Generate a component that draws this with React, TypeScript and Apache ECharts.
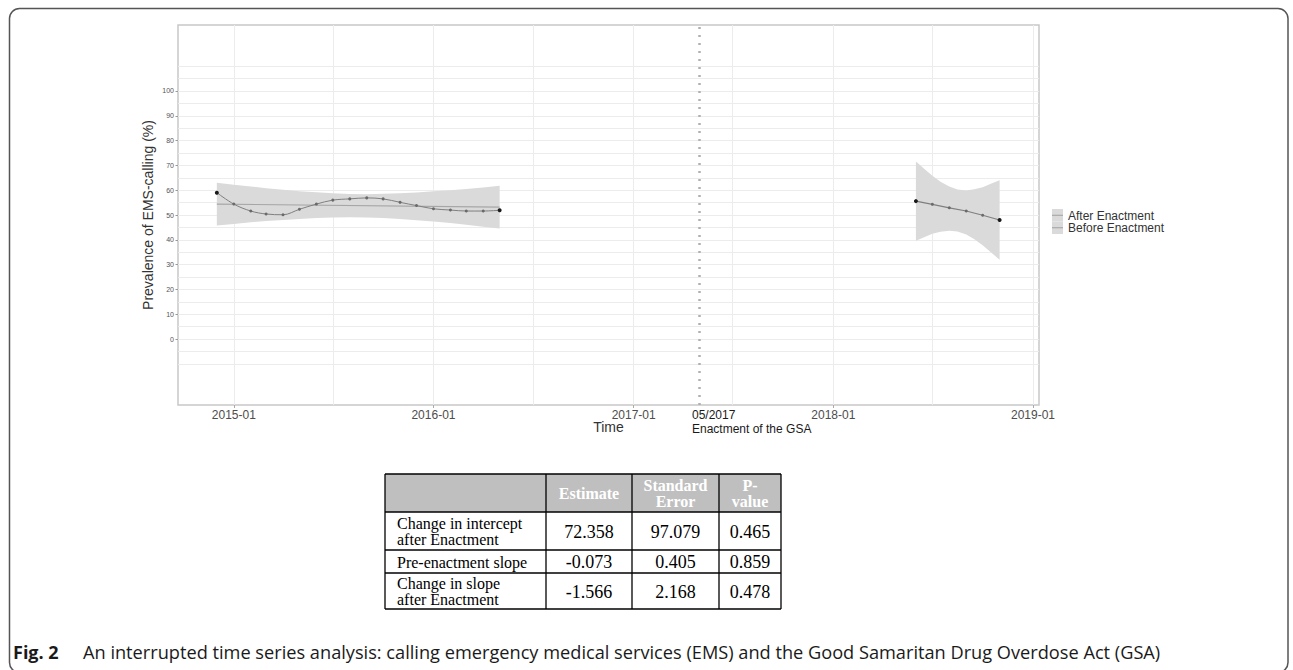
import React, { useEffect, useRef } from 'react';
import * as echarts from 'echarts';

// ---------- data ----------
const beforeMonths = ['2014-12-01','2015-01-01','2015-02-01','2015-03-01','2015-04-01','2015-05-01','2015-06-01','2015-07-01','2015-08-01','2015-09-01','2015-10-01','2015-11-01','2015-12-01','2016-01-01','2016-02-01','2016-03-01','2016-04-01','2016-05-01'];
const beforeValues = [59.0,54.4,51.6,50.4,50.1,52.3,54.4,56.0,56.5,56.9,56.5,55.1,53.8,52.5,52.0,51.6,51.6,51.9];
const beforeUpper = [63.0,62.2,61.5,60.8,60.2,59.6,59.2,58.8,58.5,58.4,58.6,58.8,59.1,59.6,60.0,60.5,61.1,61.8];
const beforeLower = [45.8,46.4,47.1,47.6,48.0,48.4,48.8,49.0,49.1,49.0,48.8,48.4,47.9,47.4,46.8,46.1,45.3,44.6];
const beforeFitDates = ['2014-12-01','2016-05-01'];
const beforeFit = [54.4,53.2];

const afterMonths = ['2018-06-01','2018-07-01','2018-08-01','2018-09-01','2018-10-01','2018-11-01'];
const afterValues = [55.6,54.3,52.9,51.6,49.9,48.0];
const afterBandDates = ['2018-06-01','2018-06-16','2018-07-01','2018-07-16','2018-08-01','2018-08-16','2018-09-01','2018-09-16','2018-10-01','2018-10-16','2018-11-01'];
const afterUpper = [71.6,68.6,65.8,63.4,61.5,60.3,59.9,60.4,61.2,62.6,64.0];
const afterLower = [39.6,41.0,42.4,43.2,43.7,43.3,42.1,40.2,37.8,35.0,32.0];

const enactmentDate = '2017-05-01';
const xTickLabels = ['2015-01-01','2016-01-01','2017-01-01','2018-01-01','2019-01-01'];
const xGridDates = ['2015-01-01','2015-07-01','2016-01-01','2016-07-01','2017-01-01','2017-07-01','2018-01-01','2018-07-01','2019-01-01'];
const yTickLabels = [0,10,20,30,40,50,60,70,80,90,100];
const yGridValues = [-10,-5,0,5,10,15,20,25,30,35,40,45,50,55,60,65,70,75,80,85,90,95,100,105,110];
const xMin = '2014-09-21';
const xMax = '2019-01-12';
const yMin = -26.6;
const yMax = 126.6;

const legendLabels = ['After Enactment','Before Enactment'];

const tableHeaders = ['', 'Estimate', 'Standard\nError', 'P-\nvalue'];
const tableLabels = ['Change in intercept\nafter Enactment', 'Pre-enactment slope', 'Change in slope\nafter Enactment'];
const tableEstimates = ['72.358', '-0.073', '-1.566'];
const tableStdErrors = ['97.079', '0.405', '2.168'];
const tablePValues = ['0.465', '0.859', '0.478'];

const captionBold = 'Fig. 2';
const captionText = 'An interrupted time series analysis: calling emergency medical services (EMS) and the Good Samaritan Drug Overdose Act (GSA)';

// ---------- helpers ----------
const ts = (s: string) => new Date(s + 'T00:00:00').getTime();
const fmtMonth = (v: number) => {
  const d = new Date(v);
  const m = d.getMonth() + 1;
  return d.getFullYear() + '-' + (m < 10 ? '0' + m : '' + m);
};

function ribbonSeries(dates: string[], upper: number[], lower: number[]) {
  return {
    type: 'custom',
    silent: true,
    z: 1,
    clip: true,
    encode: { x: 0, y: 1 },
    data: [[ts(dates[0]), upper[0]]],
    renderItem: (_params: any, api: any) => {
      const pts: number[][] = [];
      for (let i = 0; i < dates.length; i++) pts.push(api.coord([ts(dates[i]), upper[i]]));
      for (let i = dates.length - 1; i >= 0; i--) pts.push(api.coord([ts(dates[i]), lower[i]]));
      return { type: 'polygon', shape: { points: pts }, style: { fill: '#dadada', stroke: 'none' } };
    },
  };
}

function pointData(dates: string[], values: number[]) {
  return dates.map((d, i) => {
    const end = i === 0 || i === dates.length - 1;
    return {
      value: [ts(d), values[i]],
      symbolSize: end ? 4 : 3,
      itemStyle: { color: end ? '#1a1a1a' : '#6a6a6a' },
    };
  });
}

// ---------- table layout ----------
const colX = [385, 546, 632, 719, 781];
const rowY = [474, 512, 550, 573, 609];

function buildTable() {
  const els: any[] = [];
  els.push({
    type: 'rect', silent: true,
    shape: { x: colX[0], y: rowY[0], width: colX[4] - colX[0], height: rowY[1] - rowY[0] },
    style: { fill: '#bfbfbf' },
  });
  for (let c = 1; c < tableHeaders.length; c++) {
    els.push({
      type: 'text', silent: true,
      x: (colX[c] + colX[c + 1]) / 2, y: (rowY[0] + rowY[1]) / 2,
      style: {
        text: tableHeaders[c], fill: '#ffffff', fontFamily: 'Liberation Serif', fontWeight: 'bold',
        fontSize: 16, lineHeight: 16, align: 'center', verticalAlign: 'middle',
      },
    });
  }
  const cols = [tableEstimates, tableStdErrors, tablePValues];
  for (let r = 0; r < tableLabels.length; r++) {
    const cy = (rowY[r + 1] + rowY[r + 2]) / 2;
    els.push({
      type: 'text', silent: true, x: colX[0] + 12, y: cy + 0.5,
      style: {
        text: tableLabels[r], fill: '#000', fontFamily: 'Liberation Serif', fontSize: 16,
        lineHeight: 16, align: 'left', verticalAlign: 'middle',
      },
    });
    for (let c = 0; c < cols.length; c++) {
      els.push({
        type: 'text', silent: true, x: (colX[c + 1] + colX[c + 2]) / 2, y: cy + 0.5,
        style: {
          text: cols[c][r], fill: '#000', fontFamily: 'Liberation Serif', fontSize: 18,
          align: 'center', verticalAlign: 'middle',
        },
      });
    }
  }
  for (const y of rowY) {
    els.push({ type: 'line', silent: true, shape: { x1: colX[0], y1: y, x2: colX[4], y2: y }, style: { stroke: '#000', lineWidth: 1.3 } });
  }
  for (const x of colX) {
    els.push({ type: 'line', silent: true, shape: { x1: x, y1: rowY[0], x2: x, y2: rowY[4] }, style: { stroke: '#000', lineWidth: 1.3 } });
  }
  return els;
}

function buildLegend() {
  const els: any[] = [];
  legendLabels.forEach((lab, i) => {
    const y0 = 209 + i * 12.5;
    els.push({ type: 'rect', silent: true, shape: { x: 1052, y: y0, width: 11, height: 12.5 }, style: { fill: '#dadada' } });
    els.push({ type: 'line', silent: true, shape: { x1: 1052, y1: y0 + 6.25, x2: 1063, y2: y0 + 6.25 }, style: { stroke: '#a0a0a0', lineWidth: 1 } });
    els.push({
      type: 'text', silent: true, x: 1068, y: y0 + 6.5,
      style: { text: lab, fill: '#333', fontFamily: 'Liberation Sans', fontSize: 12, verticalAlign: 'middle', align: 'left' },
    });
  });
  return els;
}

export default function App() {
  const ref = useRef<HTMLDivElement>(null);
  useEffect(() => {
    if (!ref.current) return;
    const chart = echarts.init(ref.current, null, { renderer: 'svg' });
    const axisFont = 'Liberation Sans';
    const option: any = {
      animation: false,
      backgroundColor: '#ffffff',
      grid: { left: 178, top: 25, width: 861, height: 380, show: true, borderColor: '#c8c8c8', borderWidth: 1.5, backgroundColor: 'transparent' },
      xAxis: [
        {
          type: 'value', min: ts(xMin), max: ts(xMax), scale: true,
          axisLine: { show: false, onZero: false },
          axisTick: { show: false, customValues: xGridDates.map(ts) },
          splitLine: { show: true, lineStyle: { color: '#ececec', width: 1 } },
          axisLabel: {
            customValues: xTickLabels.map(ts), fontSize: 12, color: '#4d4d4d', fontFamily: axisFont, margin: 4,
            formatter: (v: number) => fmtMonth(v),
          },
          name: 'Time', nameLocation: 'middle', nameGap: 15, nameMoveOverlap: false,
          nameTextStyle: { fontSize: 14, color: '#333', fontFamily: axisFont },
        },
        {
          type: 'value', min: ts(xMin), max: ts(xMax), position: 'bottom', scale: true,
          axisLine: { show: false, onZero: false },
          axisTick: { show: true, length: 3, customValues: xTickLabels.map(ts), lineStyle: { color: '#aaa' } },
          axisLabel: { show: false },
          splitLine: { show: false },
        },
      ],
      yAxis: [
        {
          type: 'value', min: yMin, max: yMax,
          axisLine: { show: false, onZero: false },
          axisTick: { show: false, customValues: yGridValues },
          splitLine: { show: true, lineStyle: { color: '#ececec', width: 1 } },
          axisLabel: { customValues: yTickLabels, fontSize: 7, color: '#555', fontFamily: axisFont, margin: 4 },
          name: 'Prevalence of EMS-calling (%)', nameLocation: 'middle', nameGap: 23, nameMoveOverlap: false,
          nameTextStyle: { fontSize: 14, color: '#333', fontFamily: axisFont },
        },
        {
          type: 'value', min: yMin, max: yMax, position: 'left',
          axisLine: { show: false, onZero: false },
          axisTick: { show: true, length: 2.5, customValues: yTickLabels, lineStyle: { color: '#999' } },
          axisLabel: { show: false },
          splitLine: { show: false },
        },
      ],
      series: [
        ribbonSeries(beforeMonths, beforeUpper, beforeLower),
        ribbonSeries(afterBandDates, afterUpper, afterLower),
        {
          type: 'line', name: 'Before fit', z: 2, silent: true, showSymbol: false,
          data: beforeFitDates.map((d, i) => [ts(d), beforeFit[i]]),
          lineStyle: { color: '#a6a6a6', width: 1.2 },
          markLine: {
            silent: true, symbol: ['none', 'none'], label: { show: false },
            lineStyle: { color: '#b0b0b0', type: [2, 6], width: 2.5, cap: 'butt' },
            data: [{ xAxis: ts(enactmentDate) }],
          },
        },
        {
          type: 'line', name: 'Before Enactment', z: 3, silent: true, smooth: 0.35,
          symbol: 'circle', data: pointData(beforeMonths, beforeValues),
          lineStyle: { color: '#7f7f7f', width: 1 },
        },
        {
          type: 'line', name: 'After Enactment', z: 3, silent: true,
          symbol: 'circle', data: pointData(afterMonths, afterValues),
          lineStyle: { color: '#7f7f7f', width: 1.2 },
        },
      ],
      graphic: [
        {
          type: 'rect', silent: true, z: -1,
          shape: { x: 9.5, y: 8.5, width: 1278.5, height: 664, r: 10 },
          style: { fill: 'none', stroke: '#555', lineWidth: 1.5 },
        },
        ...buildLegend(),
        {
          type: 'text', silent: true, x: 692, y: 415,
          style: { text: '05/2017', fill: '#1a1a1a', fontFamily: axisFont, fontSize: 12, verticalAlign: 'middle' },
        },
        {
          type: 'text', silent: true, x: 692, y: 428.5,
          style: { text: 'Enactment of the GSA', fill: '#1a1a1a', fontFamily: axisFont, fontSize: 12, verticalAlign: 'middle' },
        },
        ...buildTable(),
        {
          type: 'text', silent: true, x: 13, y: 652,
          style: { text: captionBold, fill: '#1a1a1a', fontFamily: 'Open Sans', fontWeight: 'bold', fontSize: 18, verticalAlign: 'middle' },
        },
        {
          type: 'text', silent: true, x: 83, y: 652,
          style: { text: captionText, fill: '#1a1a1a', fontFamily: 'Open Sans', fontSize: 18.2, verticalAlign: 'middle' },
        },
      ],
    };
    chart.setOption(option);
    return () => chart.dispose();
  }, []);
  return (
    <div
      ref={ref}
      style={{ position: 'fixed', left: 0, top: 0, width: 1293, height: 670, background: '#fff' }}
    />
  );
}
